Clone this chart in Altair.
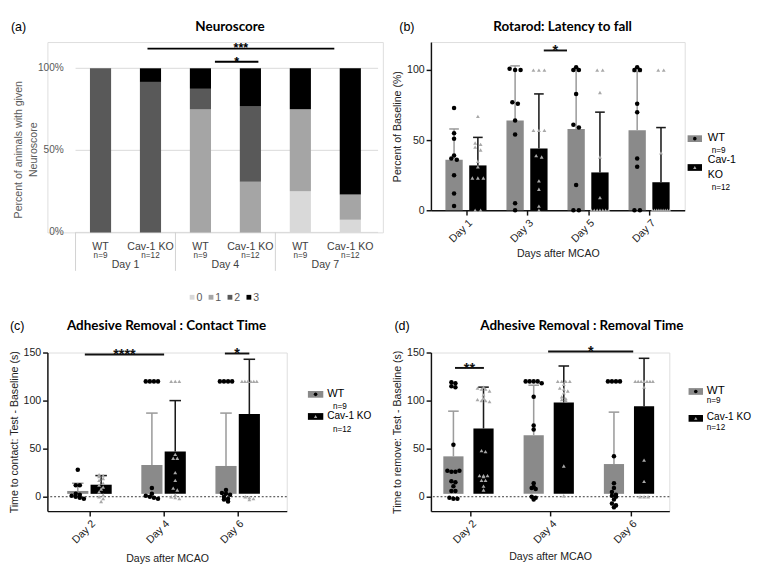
import math
import altair as alt
import pandas as pd

FONT = "Liberation Sans"
TFONT = "Lato"

# ---------------- (a) Neuroscore: % of animals with each score ----------------
A_GENOTYPE = ["WT", "Cav-1 KO", "WT", "Cav-1 KO", "WT", "Cav-1 KO"]
A_N = ["n=9", "n=12", "n=9", "n=12", "n=9", "n=12"]
A_DAYS = ["Day 1", "Day 4", "Day 7"]
A_SCORES = ["0", "1", "2", "3"]
A_SCORE0 = [0, 0, 0, 0, 25.0, 7.7]
A_SCORE1 = [0, 0, 75.0, 30.8, 50.0, 15.4]
A_SCORE2 = [100.0, 91.7, 12.5, 46.2, 0, 0]
A_SCORE3 = [0, 8.3, 12.5, 23.0, 25.0, 76.9]
A_GRAYS = ["#d9d9d9", "#a5a5a5", "#595959", "#000000"]
A_YTICKS = [0, 50, 100]
A_SIG_TEXT = ["***", "*"]
A_SIG_Y = [112, 104]
A_SIG_FROM = [1.44, 2.79]
A_SIG_TO = [5.18, 3.66]

# ---------------- (b) Rotarod: latency to fall (% of baseline) ----------------
B_DAYS = ["Day 1", "Day 3", "Day 5", "Day 7"]
B_WT_MEAN = [36, 64, 58, 57]
B_WT_SD = [58, 103, 100, 99]
B_KO_MEAN = [32, 44, 27, 20]
B_KO_SD = [52, 83, 70, 59]
B_WT_PTS = [
    [73, 55, 51, 39, 37, 36, 25, 12, 3],
    [101, 100, 100, 77, 76, 64, 54, 5, 0],
    [102, 100, 100, 83, 61, 59, 18, 0, 0],
    [102, 100, 100, 76, 70, 37, 31, 0, 0],
]
B_KO_PTS = [
    [67, 48, 47, 45, 43, 35, 31, 23, 23, 23, 0, 0],
    [100, 100, 100, 57, 57, 57, 39, 38, 21, 15, 3, 0],
    [100, 100, 84, 38, 9, 0, 0, 0, 0, 0, 0, 0],
    [100, 100, 41, 0, 0, 0, 0, 0, 0, 0, 0, 0],
]
B_SIG_TEXT = ["*"]
B_SIG_Y = [114]
B_SIG_FROM = [1.27]
B_SIG_TO = [1.65]

# ---------------- (c) Adhesive removal: contact time ----------------
C_DAYS = ["Day 2", "Day 4", "Day 6"]
C_WT_MEAN = [6, 33, 32]
C_WT_SD = [14, 87, 87]
C_KO_MEAN = [12.5, 47, 86]
C_KO_SD = [22, 100, 143]
C_WT_PTS = [
    [28, 12, 12, 3, 2, 1, 0, -1, -2],
    [120, 120, 120, 120, 9, 3, 1, 0, -1, -2],
    [120, 120, 120, 120, 7, 4, 3, 2, 0, -2, -3, -5],
]
C_KO_PTS = [
    [23, 22, 21, 19, 17, 14, 12, 10, 8, 5, 2, 0, -2, -5],
    [120, 120, 120, 44, 40, 40, 25, 17, 9, 7, 2, 0, -1, -2],
    [120, 120, 120, 120, 120, 120, 0, -1, -2, -3],
]
C_SIG_TEXT = ["****", "*"]
C_SIG_Y = [148, 149]
C_SIG_FROM = [-0.06, 1.83]
C_SIG_TO = [1.01, 2.16]

# ---------------- (d) Adhesive removal: removal time ----------------
D_DAYS = ["Day 2", "Day 4", "Day 6"]
D_WT_MEAN = [42, 64, 34]
D_WT_SD = [89, 116, 88]
D_KO_MEAN = [71, 98, 94]
D_KO_SD = [114, 136, 144]
D_WT_PTS = [
    [119, 118, 115, 114, 54, 27, 26, 26, 27, 16, 15, 11, 6, 6, -1, -2, -2],
    [120, 120, 120, 120, 118, 104, 74, 70, 14, 10, 9, 8, 0, -1, -3],
    [120, 120, 120, 120, 42, 14, 9, 5, 2, 1, 0, -3, -7, -9, -11],
]
D_KO_PTS = [
    [114, 113, 112, 112, 110, 106, 102, 101, 100, 100, 99, 48, 47, 22, 22, 22, 21, 17, 17, 11, 7],
    [120, 120, 120, 120, 117, 113, 112, 110, 108, 104, 102, 101, 100, 32, 1],
    [120, 120, 120, 120, 120, 120, 120, 114, 38, 16, 0, 0, 0],
]
D_SIG_TEXT = ["**", "*"]
D_SIG_Y = [134, 151]
D_SIG_FROM = [-0.19, 0.97]
D_SIG_TO = [0.17, 2.03]

WT_BAR = "#8a8a8a"
WT_ERR = "#9c9c9c"
KO_BAR = "#000000"
KO_ERR = "#1a1a1a"
TRI = "#a8a8a8"


def spread(vals, bin_size, step, max_width):
    """Horizontal offsets so that points with (nearly) equal values sit side by side."""
    keys = [math.floor(v / bin_size + 0.5) for v in vals]
    counts = {}
    for k in keys:
        counts[k] = counts.get(k, 0) + 1
    seen, offs = {}, []
    for k in keys:
        n = counts[k]
        i = seen.get(k, 0)
        seen[k] = i + 1
        s = step if n <= 1 else min(step, max_width / (n - 1))
        offs.append((i - (n - 1) / 2) * s)
    return offs


def one():
    return pd.DataFrame({"t": [0]})


def ptext(txt, x, y, size=11, weight="normal", font=FONT, align="center", color="black",
          baseline="middle", angle=0):
    return alt.Chart(pd.DataFrame({"t": [txt]})).mark_text(
        align=align, baseline=baseline, fontSize=size, fontWeight=weight, font=font, color=color, angle=angle
    ).encode(x=alt.value(x), y=alt.value(y), text="t:N")


def prect(x0, x1, y0, y1, color):
    return alt.Chart(one()).mark_rect(color=color, opacity=1).encode(
        x=alt.value(x0), x2=alt.value(x1), y=alt.value(y0), y2=alt.value(y1))


def ppoint(x, y, shape, color, size):
    return alt.Chart(one()).mark_point(shape=shape, filled=True, color=color, size=size, opacity=1).encode(
        x=alt.value(x), y=alt.value(y))


# ====================== panel (a) ======================
# the view starts 25px left of the first category separator (so that its left edge lines up with panel c)
W_A, H_A = 349, 198
XA_MIN, XA_MAX = -0.467, 6.056
xa = alt.Scale(domain=[XA_MIN, XA_MAX], nice=False, zero=False)
ya = alt.Scale(domain=[0, 116], nice=False, zero=False)


def XA(f):
    return alt.X(f, type="quantitative", scale=xa, axis=None)


def YA(f, **kw):
    return alt.Y(f, type="quantitative", scale=ya, axis=None, **kw)


score_cols = [A_SCORE0, A_SCORE1, A_SCORE2, A_SCORE3]
rows = []
for i in range(len(A_GENOTYPE)):
    for s, col in zip(A_SCORES, score_cols):
        rows.append({"x": i + 0.5, "pct": col[i], "score": s})
df_a = pd.DataFrame(rows)

df_grid = pd.DataFrame({"y": A_YTICKS, "x0": [0] * len(A_YTICKS), "x1": [XA_MAX] * len(A_YTICKS),
                        "lab": ["%d%%" % v for v in A_YTICKS]})
grid_a = alt.Chart(df_grid).mark_rule(color="#d9d9d9", strokeWidth=1).encode(
    x=XA("x0"), x2="x1", y=YA("y"))
ylab_a = alt.Chart(df_grid).mark_text(align="right", fontSize=10.5, color="#595959", font=FONT).encode(
    x=alt.value(17), y=YA("y"), text="lab:N")

bars_a = alt.Chart(df_a).mark_bar(size=22, opacity=1).encode(
    x=XA("x"),
    y=YA("pct", stack="zero"),
    color=alt.Color("score:N", scale=alt.Scale(domain=A_SCORES, range=A_GRAYS), legend=None),
    order=alt.Order("score:N", sort="ascending"),
)

df_alab = pd.DataFrame({"x": [i + 0.5 for i in range(len(A_GENOTYPE))], "g": A_GENOTYPE, "n": A_N})
geno_a = alt.Chart(df_alab).mark_text(fontSize=11, color="#404040", font=FONT).encode(
    x=XA("x"), y=alt.value(H_A + 15), text="g:N")
n_a = alt.Chart(df_alab).mark_text(fontSize=8.5, color="#404040", font=FONT).encode(
    x=XA("x"), y=alt.value(H_A + 24), text="n:N")
df_aday = pd.DataFrame({"x": [2 * i + 1 for i in range(len(A_DAYS))], "d": A_DAYS})
day_a = alt.Chart(df_aday).mark_text(fontSize=11, color="#404040", font=FONT).encode(
    x=XA("x"), y=alt.value(H_A + 34), text="d:N")
df_asep = pd.DataFrame({"x": [2 * i for i in range(len(A_DAYS))]})
sep_a = alt.Chart(df_asep).mark_rule(color="#d0d0d0", strokeWidth=1).encode(
    x=XA("x"), y=alt.value(H_A), y2=alt.value(H_A + 40))

df_asig = pd.DataFrame({"x1": A_SIG_FROM, "x2": A_SIG_TO, "y": A_SIG_Y, "t": A_SIG_TEXT,
                        "xm": [(a + b) / 2 for a, b in zip(A_SIG_FROM, A_SIG_TO)]})
sigr_a = alt.Chart(df_asig).mark_rule(color="black", strokeWidth=2).encode(x=XA("x1"), x2="x2", y=YA("y"))
sigt_a = alt.Chart(df_asig).mark_text(fontSize=13, fontWeight="bold", baseline="alphabetic", dy=4,
                                      color="black", font=FONT).encode(x=XA("xm"), y=YA("y"), text="t:N")

# score legend below the axis (small squares + labels)
legend_a = []
for k, (s, c) in enumerate(zip(A_SCORES, A_GRAYS)):
    x0 = 148 + 19.7 * k
    legend_a.append(prect(x0, x0 + 5, 263, 268, c))
    legend_a.append(ptext(s, x0 + 7, 266, size=11, align="left", color="#595959"))

panel_a = alt.layer(
    grid_a, bars_a, ylab_a, sep_a, geno_a, n_a, day_a, sigr_a, sigt_a,
    ptext("Percent of animals with given", -29, 112, size=11, color="#595959", angle=270),
    ptext("Neuroscore", -14, 112, size=11, color="#595959", angle=270),
    ptext("Neuroscore", 190, -16, size=14, weight="bold", font=TFONT),
    ptext("(a)", -38, -16, size=13, align="left"),
    *legend_a,
).properties(width=W_A, height=H_A)


# ====================== grouped panels (b, c, d) ======================
def group_panel(days, wt_mean, wt_sd, ko_mean, ko_sd, wt_pts, ko_pts, sig_text, sig_y, sig_from, sig_to,
                W, H, xdom, ydom, yvals, offs, bar_px, cap_px, base, ytitle, title, title_x, title_y,
                letter, letter_x, step, max_w, legend_layers, zero_line, xtitle_pad):
    xs = alt.Scale(domain=xdom, nice=False, zero=False)
    ys = alt.Scale(domain=ydom, nice=False, zero=False)
    expr = "[" + ",".join("'%s'" % d for d in days) + "][datum.value]"
    xaxis = alt.Axis(values=list(range(len(days))), labelExpr=expr, labelAngle=-45, labelAlign="right",
                     labelBaseline="top", title="Days after MCAO", grid=False, domainColor="#111",
                     domainWidth=1.5, tickColor="#111", tickWidth=1.5, tickSize=5, labelFontSize=11,
                     labelColor="#222", labelFont=FONT, titleFont=FONT, titleFontSize=11,
                     titleFontWeight="normal", titleColor="#222", titlePadding=xtitle_pad, labelPadding=2)
    yaxis = alt.Axis(values=yvals, title=ytitle, grid=False, domainColor="#111", domainWidth=1.5,
                     tickColor="#111", tickWidth=1.5, tickSize=5, labelFontSize=11, labelColor="#222",
                     labelFont=FONT, titleFont=FONT, titleFontSize=11, titleFontWeight="normal",
                     titleColor="#222", titlePadding=4, labelPadding=2)

    def X(f):
        return alt.X(f, type="quantitative", scale=xs, axis=xaxis)

    def Y(f):
        return alt.Y(f, type="quantitative", scale=ys, axis=yaxis)

    bar_rows, pt_wt, pt_ko = [], [], []
    for i in range(len(days)):
        bar_rows.append({"x": i + offs[0], "y": wt_mean[i], "y2": base, "top": wt_sd[i], "c": WT_BAR, "e": WT_ERR})
        bar_rows.append({"x": i + offs[1], "y": ko_mean[i], "y2": base, "top": ko_sd[i], "c": KO_BAR, "e": KO_ERR})
        for v, o in zip(wt_pts[i], spread(wt_pts[i], 4, step, max_w)):
            pt_wt.append({"x": i + offs[0] + o, "y": v})
        for v, o in zip(ko_pts[i], spread(ko_pts[i], 4, step, max_w)):
            pt_ko.append({"x": i + offs[1] + o, "y": v})
    df_bar = pd.DataFrame(bar_rows)

    bars = alt.Chart(df_bar).mark_bar(size=bar_px, opacity=1).encode(
        x=X("x"), y=Y("y"), y2="y2", color=alt.Color("c:N", scale=None))
    err = alt.Chart(df_bar).mark_rule(strokeWidth=1.6, opacity=1).encode(
        x=X("x"), y=Y("y"), y2="top", color=alt.Color("e:N", scale=None))
    cap = alt.Chart(df_bar).mark_tick(orient="horizontal", size=cap_px, thickness=1.6, opacity=1).encode(
        x=X("x"), y=Y("top"), color=alt.Color("e:N", scale=None))
    wt = alt.Chart(pd.DataFrame(pt_wt)).mark_point(shape="circle", filled=True, size=22, color="black",
                                                   opacity=1).encode(x=X("x"), y=Y("y"))
    ko = alt.Chart(pd.DataFrame(pt_ko)).mark_point(shape="triangle-up", filled=True, size=16, color=TRI,
                                                   opacity=1).encode(x=X("x"), y=Y("y"))
    df_sig = pd.DataFrame({"x1": sig_from, "x2": sig_to, "y": sig_y, "t": sig_text,
                           "xm": [(a + b) / 2 for a, b in zip(sig_from, sig_to)]})
    sigr = alt.Chart(df_sig).mark_rule(color="#111", strokeWidth=2).encode(x=X("x1"), x2="x2", y=Y("y"))
    sigt = alt.Chart(df_sig).mark_text(fontSize=15, fontWeight="bold", baseline="alphabetic", dy=5,
                                       color="#111", font=FONT).encode(x=X("xm"), y=Y("y"), text="t:N")
    layers = [bars]
    if zero_line:
        layers.append(alt.Chart(pd.DataFrame({"y": [0]})).mark_rule(
            strokeDash=[2, 2], color="#333", strokeWidth=1).encode(y=Y("y")))
    layers += [err, cap, wt, ko, sigr, sigt,
               ptext(title, title_x, title_y, size=14, weight="bold", font=TFONT),
               ptext(letter, letter_x, title_y, size=13, align="left")]
    layers += legend_layers
    return alt.layer(*layers).properties(width=W, height=H)


def legend_b():
    return [
        prect(267, 282, 97, 104, WT_BAR), ppoint(274.5, 100.5, "circle", "black", 14),
        ptext("WT", 288, 100, size=11.5, align="left"),
        ptext("n=9", 292, 112, size=8.5, align="left"),
        prect(267, 282, 127, 134, KO_BAR), ppoint(274.5, 130.5, "triangle-up", TRI, 12),
        ptext("Cav-1", 288, 123, size=11, align="left"),
        ptext("KO", 288, 138, size=11, align="left"),
        ptext("n=12", 292, 151, size=8.5, align="left"),
    ]


def legend_c(w):
    x0 = w + 22
    return [
        prect(x0, x0 + 16, 40, 47, WT_BAR), ppoint(x0 + 8, 43.5, "circle", "black", 14),
        ptext("WT", x0 + 20, 43, size=11.5, align="left"),
        ptext("n=9", x0 + 26, 56, size=8.5, align="left"),
        prect(x0, x0 + 16, 63, 70, KO_BAR), ppoint(x0 + 8, 66.5, "triangle-up", TRI, 12),
        ptext("Cav-1 KO", x0 + 20, 66, size=10.5, align="left"),
        ptext("n=12", x0 + 26, 80, size=8.5, align="left"),
    ]


def legend_d(w):
    x0 = w + 20
    return [
        prect(x0, x0 + 15, 37, 44, WT_BAR), ppoint(x0 + 7.5, 40.5, "circle", "black", 14),
        ptext("WT", x0 + 19, 39, size=12, align="left"),
        ptext("n=9", x0 + 19, 49.5, size=8.5, align="left"),
        prect(x0, x0 + 15, 65, 72, KO_BAR), ppoint(x0 + 7.5, 68.5, "triangle-up", TRI, 12),
        ptext("Cav-1 KO", x0 + 19, 67, size=10.5, align="left"),
        ptext("n=12", x0 + 19, 78, size=8.5, align="left"),
    ]


W_C, W_D = 249, 248
panel_b = group_panel(B_DAYS, B_WT_MEAN, B_WT_SD, B_KO_MEAN, B_KO_SD, B_WT_PTS, B_KO_PTS,
                      B_SIG_TEXT, B_SIG_Y, B_SIG_FROM, B_SIG_TO,
                      W=264, H=175, xdom=[-0.5, 3.5], ydom=[0, 120], yvals=[0, 50, 100],
                      offs=[-0.2, 0.19], bar_px=18, cap_px=10, base=0,
                      ytitle="Percent of Baseline (%)", title="Rotarod: Latency to fall",
                      title_x=137, title_y=-16, letter="(b)", letter_x=-33,
                      step=0.09, max_w=0.28, legend_layers=legend_b(), zero_line=False, xtitle_pad=4)

panel_c = group_panel(C_DAYS, C_WT_MEAN, C_WT_SD, C_KO_MEAN, C_KO_SD, C_WT_PTS, C_KO_PTS,
                      C_SIG_TEXT, C_SIG_Y, C_SIG_FROM, C_SIG_TO,
                      W=W_C, H=165, xdom=[-0.5, 2.6], ydom=[-15, 150], yvals=[0, 50, 100, 150],
                      offs=[-0.155, 0.16], bar_px=22, cap_px=12, base=3,
                      ytitle="Time to contact: Test - Baseline (s)",
                      title="Adhesive Removal : Contact Time", title_x=124, title_y=-27,
                      letter="(c)", letter_x=-39, step=0.055, max_w=0.2,
                      legend_layers=legend_c(W_C), zero_line=True, xtitle_pad=8)

panel_d = group_panel(D_DAYS, D_WT_MEAN, D_WT_SD, D_KO_MEAN, D_KO_SD, D_WT_PTS, D_KO_PTS,
                      D_SIG_TEXT, D_SIG_Y, D_SIG_FROM, D_SIG_TO,
                      W=W_D, H=165, xdom=[-0.43, 2.42], ydom=[-15, 150], yvals=[0, 50, 100, 150],
                      offs=[-0.21, 0.165], bar_px=21, cap_px=11, base=3,
                      ytitle="Time to remove: Test - Baseline (s)",
                      title="Adhesive Removal : Removal Time", title_x=W_D / 2 + 33, title_y=-27,
                      letter="(d)", letter_x=-38, step=0.05, max_w=0.22,
                      legend_layers=legend_d(W_D), zero_line=True, xtitle_pad=6)

chart = alt.concat(
    panel_a, panel_b, panel_c, panel_d, columns=2,
    spacing={"row": 16, "column": 8},
    align={"row": "each", "column": "none"},
    bounds="full",
).properties(padding=0).configure_view(stroke=None).configure(font=FONT)

chart.save("out.html", embed_options={"renderer": "svg", "actions": False})
